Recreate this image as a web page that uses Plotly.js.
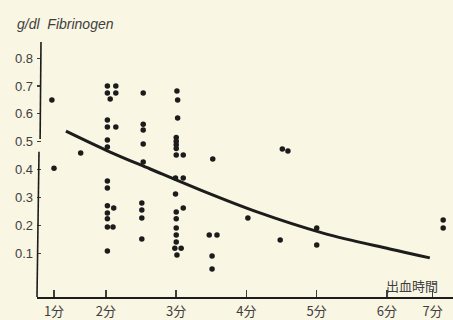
<!DOCTYPE html>
<html>
<head>
<meta charset="utf-8">
<script src="https://cdn.plot.ly/plotly-3.0.1.min.js"></script>
<style>
  html, body { margin: 0; padding: 0; background: #f9f6e3; }
  #chart { width: 453px; height: 320px; }
</style>
</head>
<body>
<div id="chart"></div>
<script>
// Bleeding time (minutes) against plasma fibrinogen (g/dl)

// Individual measurements: bleeding time and fibrinogen
const bleedTime = [
  1.23, 1.26,
  1.64,
  2.02, 2.02, 2.06, 2.02, 2.02, 2.02, 2.02, 2.02, 2.02, 2.02, 2.02, 2.02, 2.02, 2.02,
  2.14, 2.14, 2.14, 2.11, 2.10,
  2.53, 2.53, 2.53, 2.53, 2.53, 2.51, 2.51, 2.51, 2.51,
  3.01, 3.02, 3.02, 3.00, 3.00, 3.00, 3.00, 3.00, 2.99, 2.99, 3.00, 3.00, 3.00, 3.00, 3.00, 2.98, 3.01,
  3.10, 3.10, 3.10, 3.07,
  3.52, 3.47, 3.58, 3.51, 3.51,
  4.02,
  4.51, 4.59, 4.48,
  5.00, 5.00,
  6.80, 6.80
];
const fibrinogen = [
  0.650, 0.405,
  0.459,
  0.700, 0.675, 0.653, 0.578, 0.553, 0.506, 0.481, 0.359, 0.334, 0.270, 0.244, 0.223, 0.194, 0.108,
  0.700, 0.675, 0.553, 0.262, 0.194,
  0.675, 0.563, 0.542, 0.492, 0.427, 0.280, 0.255, 0.226, 0.151,
  0.682, 0.650, 0.585, 0.515, 0.502, 0.489, 0.476, 0.452, 0.370, 0.312, 0.248, 0.223, 0.190, 0.165, 0.140, 0.118, 0.093,
  0.452, 0.370, 0.262, 0.118,
  0.438, 0.165, 0.165, 0.090, 0.043,
  0.226,
  0.474, 0.467, 0.147,
  0.190, 0.129,
  0.219, 0.190
];

// Hand-fitted trend curve
const curveTime = [1.43, 2.06, 2.63, 3.34, 4.15, 5.09, 6.04, 6.61];
const curveFib  = [0.538, 0.463, 0.402, 0.327, 0.248, 0.172, 0.115, 0.083];

// Ticks along the hand-ruled time axis
const timeTickPos    = [1.26, 2, 3, 4, 5, 6, 6.65];
const timeTickLabels = ['1分', '2分', '3分', '4分', '5分', '6分', '7分'];
const fibTickVals    = [0.1, 0.2, 0.3, 0.4, 0.5, 0.6, 0.7, 0.8];
const fibTickLabels  = ['0.1', '0.2', '0.3', '0.4', '0.5', '0.6', '0.7', '0.8'];

const ink = '#1c1c1c';
const pencil = '#3e3e3e';
const hand = '"Liberation Sans", Arial, sans-serif';

const traces = [
  {
    x: curveTime, y: curveFib,
    type: 'scatter', mode: 'lines',
    line: { color: ink, width: 3, shape: 'spline', smoothing: 1.0 },
    hoverinfo: 'skip'
  },
  {
    x: bleedTime, y: fibrinogen,
    type: 'scatter', mode: 'markers',
    marker: { color: ink, size: 5.5 }
  }
];

const layout = {
  width: 453, height: 320,
  margin: { l: 37, r: 0, t: 40, b: 23 },
  paper_bgcolor: '#f9f6e3',
  plot_bgcolor: '#f9f6e3',
  showlegend: false,
  title: {
    text: '<i>g/dl  Fibrinogen</i>',
    font: { family: hand, size: 14, color: pencil },
    xref: 'container', yref: 'container',
    x: 17 / 453, xanchor: 'left',
    y: 1 - 24 / 320, yanchor: 'middle'
  },
  xaxis: {
    range: [1.018, 6.94],
    tickmode: 'array', tickvals: timeTickPos, ticktext: timeTickLabels,
    ticks: 'inside', ticklen: 7, tickwidth: 1.5, tickcolor: pencil,
    showline: true, linecolor: ink, linewidth: 2,
    showgrid: false, zeroline: false,
    tickfont: { family: '"Noto Sans CJK JP", sans-serif', size: 13, color: pencil },
    ticklabelstandoff: 1
  },
  yaxis: {
    range: [-0.0574, 0.865],
    tickmode: 'array', tickvals: fibTickVals, ticktext: fibTickLabels,
    ticks: 'inside', ticklen: 4, tickwidth: 1.2, tickcolor: pencil,
    showline: false, showgrid: false, zeroline: false,
    tickfont: { family: hand, size: 13, color: pencil },
    ticklabelstandoff: 3
  },
  shapes: [
    // upper and lower pieces of the ruled fibrinogen axis
    { type: 'line', xref: 'paper', yref: 'y', x0: 0.0096, x1: 0.0075, y0: 0.858, y1: 0.51,
      line: { color: ink, width: 1.6 } },
    { type: 'line', xref: 'paper', yref: 'y', x0: 0.0048, x1: 0.0, y0: 0.464, y1: -0.0574,
      line: { color: ink, width: 1.6 } }
  ],
  annotations: [
    {
      text: '出血時間',
      xref: 'paper', yref: 'paper',
      x: (412 - 37) / 416, y: (297 - 285) / 257,
      xanchor: 'center', yanchor: 'middle',
      showarrow: false,
      font: { family: '"Noto Sans CJK JP", sans-serif', size: 13, color: pencil }
    }
  ]
};

Plotly.newPlot('chart', traces, layout, { displayModeBar: false, staticPlot: true });
</script>
</body>
</html>
